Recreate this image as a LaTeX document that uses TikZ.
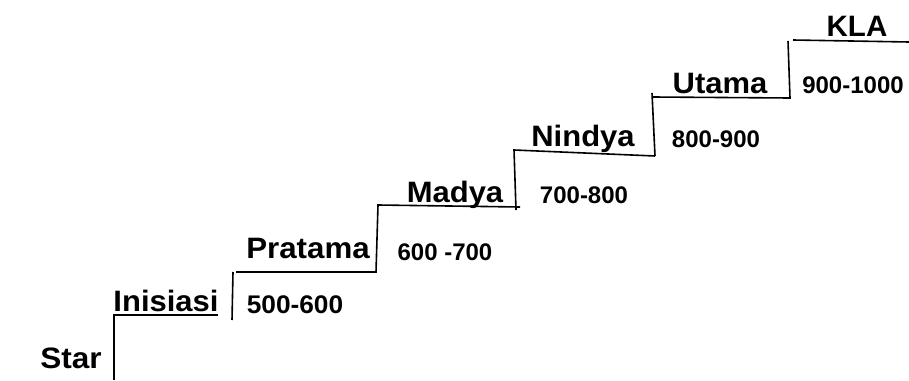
\documentclass[tikz,border=0pt]{standalone}
\usepackage{fontspec}
\setmainfont{Liberation Sans}
\begin{document}
\begin{tikzpicture}[x=1pt,y=-1pt,
  stepline/.style={line width=1.6pt,black},
  lbl/.style={anchor=base,inner sep=0pt,font=\fontsize{29.5}{31}\selectfont\bfseries},
  rng/.style={anchor=base,inner sep=0pt,font=\fontsize{24}{26}\selectfont\bfseries}]
\useasboundingbox (0,0) rectangle (909,380);
% step corners
\coordinate (r1b) at (114,380);
\coordinate (r1t) at (114,315);
\coordinate (t1e) at (218,315);
\coordinate (r2b) at (232,320);
\coordinate (r2t) at (233,272);
\coordinate (t2s) at (236,272);
\coordinate (t2e) at (376,272);
\coordinate (r3t) at (378,205);
\coordinate (t3e) at (520,207);
\coordinate (r4b) at (516,210);
\coordinate (r4t) at (514,150);
\coordinate (t4e) at (655,156);
\coordinate (r5t) at (652,93);
\coordinate (t5s) at (653,97);
\coordinate (t5e) at (790,98);
\coordinate (r6t) at (788,41);
\coordinate (t6s) at (793,40);
\coordinate (t6e) at (909,42);
% lines
\draw[stepline] (r1b) -- (r1t) -- (t1e);
\draw[stepline] (r2b) -- (r2t);
\draw[stepline] (t2s) -- (t2e) -- (r3t) -- (t3e);
\draw[stepline] (r4b) -- (r4t) -- (t4e);
\draw[stepline] (t4e) -- (r5t);
\draw[stepline] (t5s) -- (t5e) -- (r6t);
\draw[stepline] (t6s) -- (t6e);
% labels
\node[lbl] (star) at (71,368) {\scalebox{1.07}[1]{Star}};
\node[lbl] (inisiasi) at (166,311) {\scalebox{1.05}[1]{Inisiasi}};
\node[rng,font=\fontsize{25.5}{27}\selectfont\bfseries] (r500) at (295,313) {\scalebox{1.03}[1]{500-600}};
\node[lbl] (pratama) at (308,258) {\scalebox{1.06}[1]{Pratama}};
\node[rng] (r600) at (445,260) {600 -700};
\node[lbl] (madya) at (455,202) {\scalebox{1.05}[1]{Madya}};
\node[rng] (r700) at (584,203) {700-800};
\node[lbl] (nindya) at (583,146) {\scalebox{1.05}[1]{Nindya}};
\node[rng] (r800) at (716,147) {800-900};
\node[lbl] (utama) at (720,93) {\scalebox{1.05}[1]{Utama}};
\node[rng] (r900) at (853,93) {900-1000};
\node[lbl] (kla) at (857,36) {KLA};
\end{tikzpicture}
\end{document}
